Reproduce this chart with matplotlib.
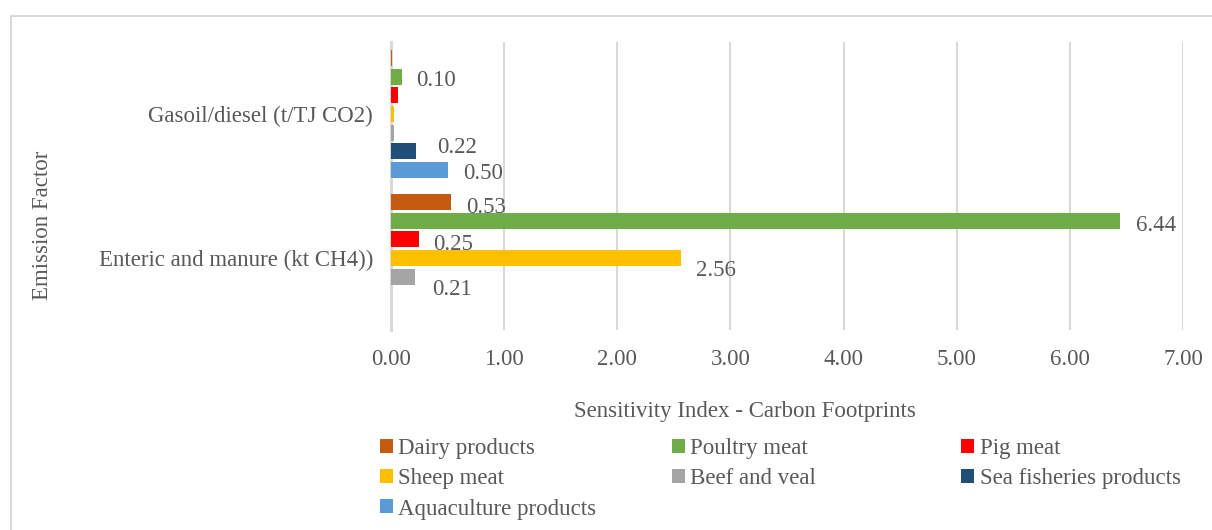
import numpy as np
import matplotlib.pyplot as plt
from matplotlib.patches import Rectangle

categories = ['Enteric and manure (kt CH4))', 'Gasoil/diesel (t/TJ CO2)']
series = ['Dairy products', 'Poultry meat', 'Pig meat', 'Sheep meat',
          'Beef and veal', 'Sea fisheries products', 'Aquaculture products']
# values per series: [enteric, gasoil]
dairy = [0.53, 0.005]
poultry = [6.44, 0.10]
pig = [0.25, 0.06]
sheep = [2.56, 0.03]
beef = [0.21, 0.025]
sea = [0.0, 0.22]
aqua = [0.0, 0.50]
values = [dairy, poultry, pig, sheep, beef, sea, aqua]
xticks = [0, 1, 2, 3, 4, 5, 6, 7]

colors = ['#C55A11', '#70AD47', '#FF0000', '#FFC000', '#A5A5A5', '#1F4E79', '#5B9BD5']
# which bars carry a value label, and its pixel offset (dx, dy)
label_style = {
    (0, 0): (15, -5), (1, 0): (16, -5), (2, 0): (14, -5), (3, 0): (15, -12), (4, 0): (17, -13),
    (1, 1): (14, -4), (5, 1): (21, 4), (6, 1): (16, -4),
}

txt = '#595959'
plt.rcParams['font.family'] = ['Liberation Serif', 'DejaVu Serif']

W, H = 1212, 530
fig = plt.figure(figsize=(W / 100, H / 100), dpi=100)
ax = fig.add_axes([391 / W, 1 - 330 / H, (1183 - 391) / W, (330 - 42) / H])

pitch = 0.129
bh = 0.112
y = np.arange(len(categories))
for i, (name, vals) in enumerate(zip(series, values)):
    pos = y + (3 - i) * pitch
    ax.barh(pos, vals, height=bh, color=colors[i], label=name, zorder=3, linewidth=0)
    for j, v in enumerate(vals):
        if (i, j) in label_style:
            dx, dy = label_style[(i, j)]
            ax.annotate(f'{v:.2f}', (v, pos[j]), xytext=(dx, dy), textcoords='offset pixels',
                        ha='left', va='center', fontsize=16.5, color=txt, zorder=4)

ax.set_xlim(0, 7)
ax.set_ylim(-0.5, 1.5)
ax.set_xticks(xticks)
ax.set_xticklabels([f'{t:.2f}' for t in xticks], fontsize=16.5, color=txt)
ax.set_yticks(y)
ax.set_yticklabels(categories, fontsize=16.5, color=txt)
ax.tick_params(axis='x', length=0, pad=14)
ax.tick_params(axis='y', length=0, pad=13)
ax.grid(axis='x', color='#D9D9D9', linewidth=1.5, zorder=0)
for s in ['top', 'right', 'bottom']:
    ax.spines[s].set_visible(False)
ax.spines['left'].set_color('#D9D9D9')
ax.spines['left'].set_linewidth(2.2)
ax.spines['left'].set_zorder(2)

fig.text(745 / W, 1 - 411 / H, 'Sensitivity Index - Carbon Footprints', ha='center', va='center',
         fontsize=16.5, color=txt)
fig.text(43 / W, 1 - 225 / H, 'Emission Factor', ha='center', va='center', rotation=90,
         fontsize=16.5, color=txt)

# legend laid out row by row in three fixed columns, like the original
handles, labels = ax.get_legend_handles_labels()
col_x = [371, 663, 952]
for c in range(3):
    idx = list(range(c, len(handles), 3))
    leg = fig.legend([handles[k] for k in idx], [labels[k] for k in idx], loc='upper left',
                     bbox_to_anchor=(col_x[c] / W, 1 - 429 / H), frameon=False, fontsize=16.5,
                     labelcolor=txt, handlelength=0.55, handleheight=0.55, handletextpad=0.25,
                     labelspacing=0.4, borderaxespad=0)

fig.patches.append(Rectangle((11 / W, -0.1), 1.2, 1 - 16 / H + 0.1, transform=fig.transFigure,
                             fill=False, edgecolor='#D9D9D9', linewidth=1.5))

fig.savefig('out.png', dpi=100)
